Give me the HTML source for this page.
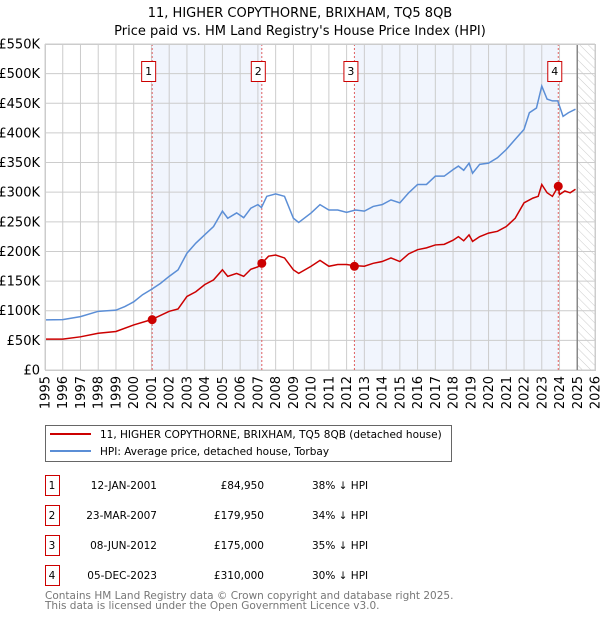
<!DOCTYPE html>
<html><head><meta charset="utf-8"><style>
body{margin:0;background:#fff;font-family:"Liberation Sans","DejaVu Sans",sans-serif;}
svg text{font-family:"DejaVu Sans","Liberation Sans",sans-serif;}
</style></head><body>
<svg id="c" width="600" height="620" xmlns="http://www.w3.org/2000/svg">
<defs><pattern id="hatch" width="6" height="6" patternUnits="userSpaceOnUse" patternTransform="rotate(-45)"><line x1="0" y1="0" x2="0" y2="6" stroke="#ccc" stroke-width="1"/></pattern></defs>
<text x="300" y="17" text-anchor="middle" font-size="13">11, HIGHER COPYTHORNE, BRIXHAM, TQ5 8QB</text>
<text x="300" y="35" text-anchor="middle" font-size="13">Price paid vs. HM Land Registry's House Price Index (HPI)</text>
<g id="plot"></g>
<g>
<rect x="45.5" y="425.5" width="406" height="36" fill="#fff" stroke="#666"/>
<line x1="50" y1="434" x2="91" y2="434" stroke="#cc0000" stroke-width="2"/>
<text x="100" y="438" font-size="10.5">11, HIGHER COPYTHORNE, BRIXHAM, TQ5 8QB (detached house)</text>
<line x1="50" y1="451" x2="91" y2="451" stroke="#5b8ed6" stroke-width="2"/>
<text x="100" y="455" font-size="10.5">HPI: Average price, detached house, Torbay</text>
</g>
<g id="table" font-size="10.5"></g>
<text x="45" y="599" font-size="10.5" fill="#777">Contains HM Land Registry data © Crown copyright and database right 2025.</text>
<text x="45" y="609" font-size="10.5" fill="#777">This data is licensed under the Open Government Licence v3.0.</text>
</svg>
<script>
const hpiYears=[1995,1996,1997,1998,1999,1999.5,2000,2000.5,2001,2001.5,2002,2002.5,2003,2003.5,2004,2004.5,2005,2005.3,2005.8,2006.2,2006.6,2007,2007.2,2007.5,2008,2008.5,2009,2009.3,2010,2010.5,2011,2011.5,2012,2012.5,2013,2013.5,2014,2014.5,2015,2015.5,2016,2016.5,2017,2017.5,2018,2018.3,2018.6,2018.9,2019.1,2019.5,2020,2020.5,2021,2021.5,2022,2022.3,2022.7,2023,2023.3,2023.6,2023.9,2024.2,2024.5,2024.9];
const hpiValues=[84.5,85,90,99,101,107,115,127,136,146,158,169,197,214,228,242,268,256,265,257,273,279,274,293,297,293,256,249,265,279,270,270,266,270,268,276,279,287,282,299,313,313,327,327,338,344,337,349,332,347,349,358,372,389,406,434,442,479,457,454,454,428,434,440];
const propYears=[1995,1996,1997,1998,1999,2000,2001,2002,2002.5,2003,2003.5,2004,2004.5,2005,2005.3,2005.8,2006.2,2006.6,2007,2007.22,2007.6,2008,2008.5,2009,2009.3,2010,2010.5,2011,2011.5,2012,2012.44,2013,2013.5,2014,2014.5,2015,2015.5,2016,2016.5,2017,2017.5,2018,2018.3,2018.6,2018.9,2019.1,2019.5,2020,2020.5,2021,2021.5,2022,2022.5,2022.8,2023,2023.3,2023.6,2023.93,2024.0,2024.3,2024.6,2024.9];
const propValues=[52,52,56,62,65,76,85,99,103,124,132,144,152,169,158,163,158,170,174,180,192,194,189,169,163,175,185,175,178,178,176,175,180,183,189,183,196,203,206,211,212,219,225,218,228,217,225,231,234,242,256,282,290,293,313,299,293,310,296,302,299,305];
const saleYears=[2001.04,2007.22,2012.44,2023.93];
const saleValues=[84.95,179.95,175,310];
const saleLabels=["1","2","3","4"];
const saleDates=["12-JAN-2001","23-MAR-2007","08-JUN-2012","05-DEC-2023"];
const salePrices=["£84,950","£179,950","£175,000","£310,000"];
const saleDiffs=["38% ↓ HPI","34% ↓ HPI","35% ↓ HPI","30% ↓ HPI"];
const yTicks=[0,50,100,150,200,250,300,350,400,450,500,550];
const yTickLabels=["£0","£50K","£100K","£150K","£200K","£250K","£300K","£350K","£400K","£450K","£500K","£550K"];
const xTicks=[1995,1996,1997,1998,1999,2000,2001,2002,2003,2004,2005,2006,2007,2008,2009,2010,2011,2012,2013,2014,2015,2016,2017,2018,2019,2020,2021,2022,2023,2024,2025,2026];

const L=45,R=595,T=44,B=370,X0=1995,X1=2026,YMAX=550;
const xs=v=>L+(v-X0)/(X1-X0)*(R-L);
const ys=v=>B-v/YMAX*(B-T);
const NS="http://www.w3.org/2000/svg";
const plot=document.getElementById('plot');
function mk(tag,attrs,parent){const e=document.createElementNS(NS,tag);for(const k in attrs)e.setAttribute(k,attrs[k]);(parent||plot).appendChild(e);return e;}

for(let i=0;i<saleYears.length;i+=2){
  const r=mk('rect',{x:xs(saleYears[i]),y:T,width:xs(saleYears[i+1])-xs(saleYears[i]),height:B-T,fill:'#eef3fc',opacity:0.8});
  
  
}
const h=mk('rect',{x:xs(2025),y:T,width:R-xs(2025),height:B-T,fill:'url(#hatch)'});


yTicks.forEach((v,i)=>{
  const g=mk('line',{x1:L,x2:R,y1:ys(v),y2:ys(v),stroke:'#ccc','stroke-width':1});
  
  
  const t=mk('text',{x:L-5,y:ys(v)+4.5,'text-anchor':'end','font-size':13});
  t.textContent=yTickLabels[i];
  
  
});
xTicks.forEach(v=>{
  const g=mk('line',{x1:xs(v),x2:xs(v),y1:T,y2:B,stroke:'#ccc','stroke-width':1});
  
  
  const t=mk('text',{x:0,y:0,'text-anchor':'end','font-size':13,transform:`translate(${xs(v)+4.5},${B+6}) rotate(-90)`});
  t.textContent=v;
  
  
});
const nl=mk('line',{x1:xs(2025),x2:xs(2025),y1:T,y2:B,stroke:'#888','stroke-width':1.5});


saleYears.forEach((v,i)=>{
  const l=mk('line',{x1:xs(v),x2:xs(v),y1:T,y2:B,stroke:'#e06060','stroke-width':1,'stroke-dasharray':'2,2'});
  
  
  const b=mk('rect',{x:xs(v)-10.5,y:61.5,width:14,height:20,fill:'#fff',stroke:'#cc0000'});
  
  
  const t=mk('text',{x:xs(v)-3.5,y:75,'text-anchor':'middle','font-size':11});
  t.textContent=saleLabels[i];
  
  
});
const hp=mk('polyline',{points:hpiYears.map((y,i)=>xs(y)+','+ys(hpiValues[i])).join(' '),fill:'none',stroke:'#5b8ed6','stroke-width':1.5});


const pp=mk('polyline',{points:propYears.map((y,i)=>xs(y)+','+ys(propValues[i])).join(' '),fill:'none',stroke:'#cc0000','stroke-width':1.5});


saleYears.forEach((v,i)=>{
  const c=mk('circle',{cx:xs(v),cy:ys(saleValues[i]),r:4.5,fill:'#cc0000'});
  
  
});
const fr=mk('rect',{x:L+0.5,y:T+0.5,width:R-L,height:B-T,fill:'none',stroke:'#ccc'});


const tb=document.getElementById('table');
saleLabels.forEach((s,i)=>{
  const y=475+i*30;
  const b=mk('rect',{x:45.5,y:y+0.5,width:14,height:20,fill:'#fff',stroke:'#cc0000'},tb);
  
  
  const cells=[[52,s,'middle'],[157,saleDates[i],'end'],[264,salePrices[i],'end'],[312,saleDiffs[i],'start']];
  cells.forEach(c=>{
    const t=mk('text',{x:c[0],y:y+14,'text-anchor':c[2],'font-size':10.5},tb);
    t.textContent=c[1];
    
    
  });
});
</script>
</body></html>
